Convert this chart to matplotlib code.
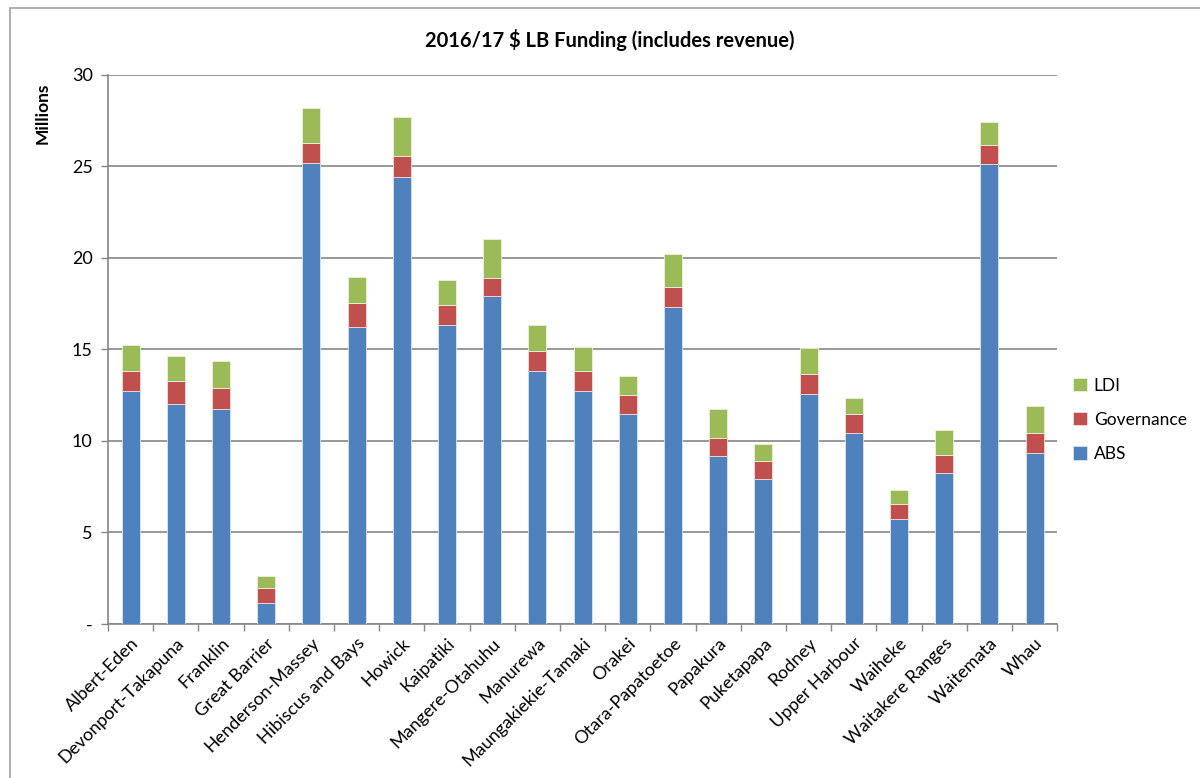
import matplotlib.pyplot as plt
from matplotlib.patches import Rectangle
import numpy as np

plt.rcParams['font.family'] = ['Lato', 'DejaVu Sans']

boards = ['Albert-Eden', 'Devonport-Takapuna', 'Franklin', 'Great Barrier',
          'Henderson-Massey', 'Hibiscus and Bays', 'Howick', 'Kaipatiki',
          'Mangere-Otahuhu', 'Manurewa', 'Maungakiekie-Tamaki', 'Orakei',
          'Otara-Papatoetoe', 'Papakura', 'Puketapapa', 'Rodney',
          'Upper Harbour', 'Waiheke', 'Waitakere Ranges', 'Waitemata', 'Whau']

# millions of dollars
abs_funding = [12.72, 12.00, 11.76, 1.15, 25.18, 16.23, 24.45, 16.36, 17.90,
               13.84, 12.72, 11.47, 17.34, 9.19, 7.93, 12.54, 10.41, 5.74,
               8.24, 25.11, 9.33]
governance = [1.10, 1.27, 1.13, 0.84, 1.09, 1.29, 1.13, 1.07, 1.01,
              1.07, 1.10, 1.04, 1.06, 0.96, 0.97, 1.10, 1.04, 0.84,
              1.00, 1.04, 1.10]
ldi = [1.42, 1.37, 1.46, 0.65, 1.92, 1.46, 2.15, 1.37, 2.13,
       1.45, 1.31, 1.02, 1.82, 1.57, 0.95, 1.46, 0.88, 0.75,
       1.35, 1.26, 1.50]

c_abs = '#4f81bd'
c_gov = '#c0504d'
c_ldi = '#9bbb59'
grey = '#868686'

fig = plt.figure(figsize=(12, 7.78), dpi=100)
ax = fig.add_axes([0.09, 0.198, 0.791, 0.7056])

x = np.arange(len(boards))
w = 0.4
b1 = ax.bar(x, abs_funding, w, color=c_abs, edgecolor='#dbe5f1', linewidth=0.6,
            label='ABS', zorder=3)
bottom2 = np.array(abs_funding)
b2 = ax.bar(x, governance, w, bottom=bottom2, color=c_gov, edgecolor='#f2dcdb',
            linewidth=0.6, label='Governance', zorder=3)
bottom3 = bottom2 + np.array(governance)
b3 = ax.bar(x, ldi, w, bottom=bottom3, color=c_ldi, edgecolor='#ebf1de',
            linewidth=0.6, label='LDI', zorder=3)

ax.set_xlim(-0.5, len(boards) - 0.5)
ax.set_ylim(0, 30)
ax.set_yticks(range(0, 31, 5))
ax.set_yticklabels(['-'] + [str(v) for v in range(5, 31, 5)], fontsize=13)
ax.yaxis.grid(True, color=grey, linewidth=1.2, zorder=0)

ax.set_xticks(x)
ax.set_xticklabels(boards, rotation=45, ha='right', rotation_mode='anchor',
                   fontsize=13)
ax.tick_params(axis='x', length=0, pad=8)
ax.set_xticks(np.arange(-0.5, len(boards), 1), minor=True)
ax.tick_params(axis='x', which='minor', length=5, color=grey, width=1)
ax.tick_params(axis='y', length=5, color=grey, width=1, pad=6)

for s in ['top', 'right']:
    ax.spines[s].set_visible(False)
for s in ['left', 'bottom']:
    ax.spines[s].set_color(grey)
    ax.spines[s].set_linewidth(1.2)

ax.set_ylabel('Millions', fontsize=12.5, fontweight='bold')
ax.yaxis.set_label_coords(-0.06, 0.93)
fig.text(0.508, 0.948, '2016/17 $ LB Funding (includes revenue)',
         ha='center', va='center', fontsize=14.5, fontweight='bold')

leg = ax.legend([b3, b2, b1], ['LDI', 'Governance', 'ABS'], frameon=False,
                loc='center left', bbox_to_anchor=(1.0, 0.372), fontsize=12.5,
                handlelength=0.8, handleheight=0.8, labelspacing=1.05,
                handletextpad=0.4)

# outer chart frame
fig.patches.append(Rectangle((10 / 1200, -0.05), 1.2, 1 - 8 / 778 + 0.05,
                             transform=fig.transFigure, fill=False,
                             edgecolor='#a0a0a0', linewidth=1.2))

fig.savefig('out.png', dpi=100)
